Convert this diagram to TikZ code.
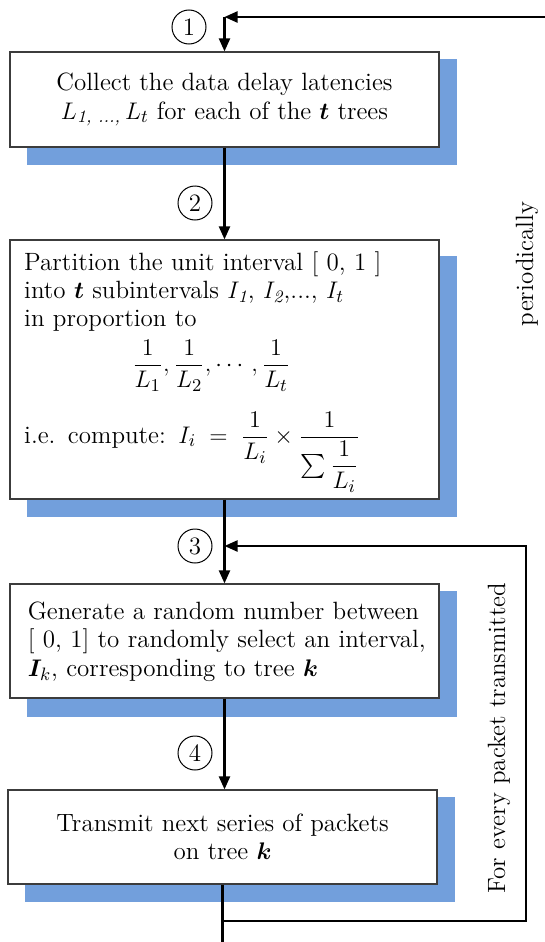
\documentclass[tikz,border=0pt]{standalone}
\usepackage{amsmath,bm}
\usetikzlibrary{arrows.meta}
\definecolor{shadowblue}{RGB}{114,159,220}
\definecolor{boxline}{RGB}{60,60,60}
\tikzset{
  every node/.style={font=\fontsize{12.5}{14.2}\selectfont},
  flowbox/.style={draw=boxline, line width=0.6pt, fill=white, rectangle, inner sep=0pt, minimum width=214.5pt, align=center},
  boxtext/.style={anchor=north west, align=left, inner sep=0pt, text width=210pt},
  stepnum/.style={circle, draw, line width=0.5pt, minimum size=17pt, inner sep=0pt},
  conn/.style={line width=1.1pt, line join=miter, -{Triangle[width=5.5pt,length=6.5pt]}},
  plainconn/.style={line width=1.1pt},
  shadowfill/.style={fill=shadowblue},
  sidelabel/.style={rotate=90, inner sep=0pt}
}
\begin{document}
\begin{tikzpicture}[x=0.5pt,y=-0.5pt]
\useasboundingbox (0,0) rectangle (545,942);
% shadows
\fill[shadowfill] (27,59) rectangle (457,165);
\fill[shadowfill] (27,256) rectangle (457,517);
\fill[shadowfill] (27,591) rectangle (457,717);
\fill[shadowfill] (25,797) rectangle (455,902);
% boxes
\node[flowbox, minimum height=47.5pt] (b1) at (224.5,99.5) {Collect the data delay latencies\\ $L_{\textit{1, ...,}}\,L_t$ for each of the $\boldsymbol{t}$ trees};
\node[flowbox, minimum height=129.5pt] (b2) at (224.5,369.5) {};
\node[flowbox, minimum height=57pt] (b3) at (224.5,641) {};
\node[flowbox, minimum height=47pt] (b4) at (222.5,837) {Transmit next series of packets\\ on tree $\boldsymbol{k}$};
% box texts
\node[boxtext] (t2) at ([xshift=7.2pt,yshift=-5.8pt]b2.north west) {Partition the unit interval [ 0, 1 ]\\
into $\boldsymbol{t}$ subintervals $I_{\textit{1}}$, $I_{\textit{2}}$,..., $I_t$\\
in proportion to\\[3pt]
\hspace*{54pt}$\displaystyle \frac{1}{L_1},\frac{1}{L_2},\cdots,\frac{1}{L_t}$\\[9pt]
i.e. compute: $\displaystyle I_i \;=\; \frac{1}{L_i}\times\frac{1}{\sum\dfrac{1}{L_i}}$};
\node[boxtext] (t3) at ([xshift=9pt,yshift=-9pt]b3.north west) {Generate a random number between\\ {[} 0, 1] to randomly select an interval,\\ $\boldsymbol{I}_k$, corresponding to tree $\boldsymbol{k}$};
% step numbers
\node[stepnum] (c1) at (189,27) {1};
\node[stepnum] (c2) at (195,203) {2};
\node[stepnum] (c3) at (195,546) {3};
\node[stepnum] (c4) at (195,753) {4};
% side labels
\node[sidelabel] (lbl1) at (527,264) {periodically};
\node[sidelabel] (lbl2) at (499,738) {For every packet transmitted};
% connectors
\coordinate (topright) at (545,17);
\coordinate (topcorner) at (b1.north |- topright);
\coordinate (bottomend) at (b4.south |- 0,942);
\coordinate (loopy) at (0,921);
\coordinate (loopx) at (526,0);
\coordinate (feedy) at (0,546);
\draw[conn] (topright) -- (topcorner);
\draw[conn] (topcorner) -- (b1.north);
\draw[conn] (b1.south) -- (b2.north);
\draw[conn] (b2.south) -- (b3.north);
\draw[conn] (b3.south) -- (b3.south |- b4.north);
\draw[plainconn] (b4.south) -- (bottomend);
\draw[conn] (b4.south |- loopy) -- (loopx |- loopy) -- (loopx |- feedy) -- (b3.north |- feedy);
\end{tikzpicture}
\end{document}
